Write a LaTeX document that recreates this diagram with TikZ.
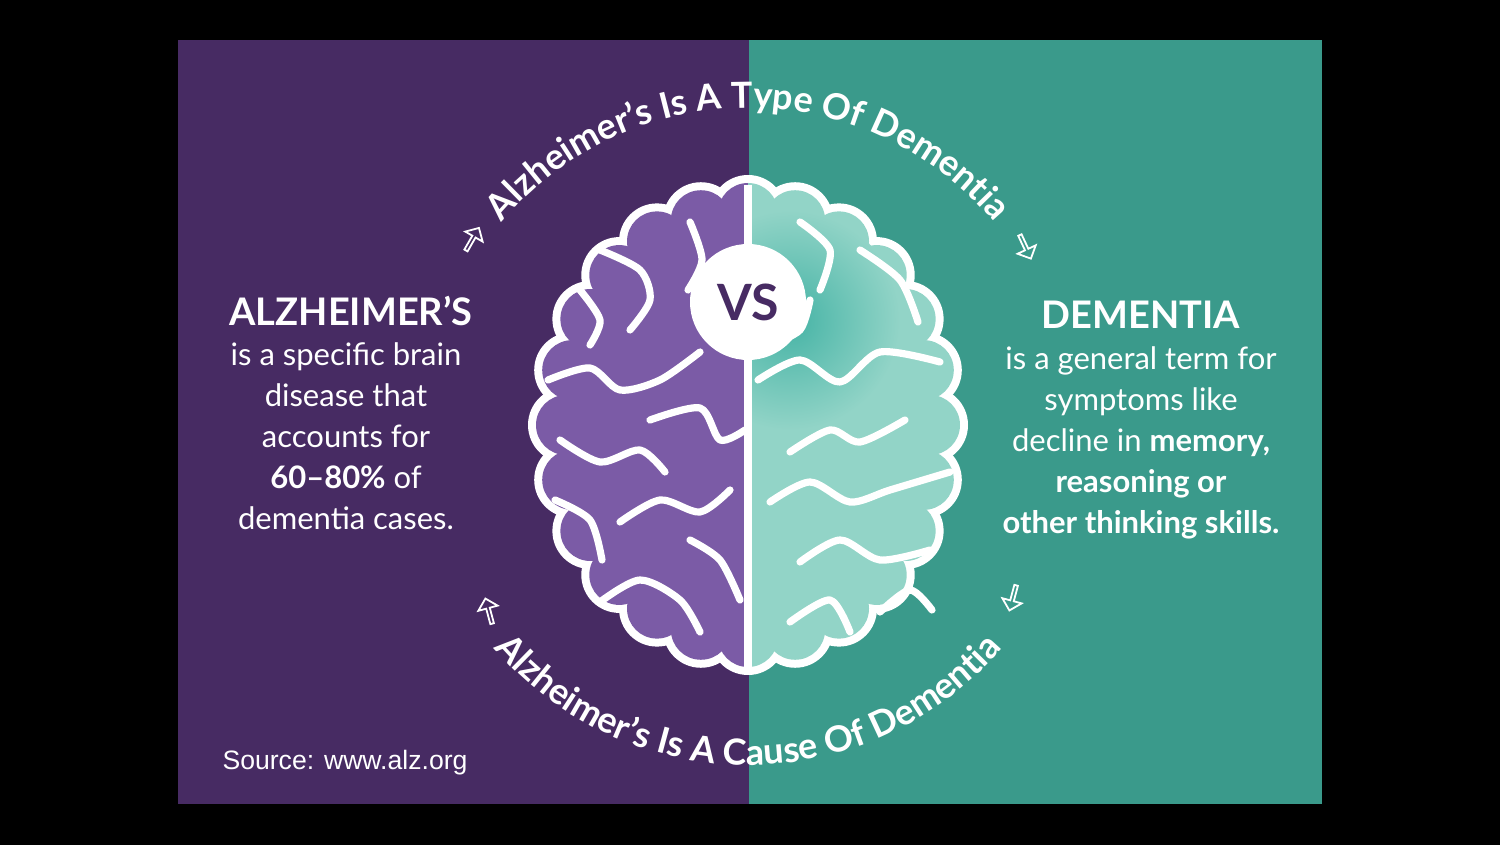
\documentclass[tikz,border=0pt]{standalone}
\usepackage{fontspec}
\setmainfont{Lato}
\newfontfamily\arialf{Liberation Sans}
\usetikzlibrary{decorations.text,shapes.arrows}
\definecolor{bgpurple}{HTML}{472B63}
\definecolor{bgteal}{HTML}{3A9A8B}
\definecolor{brpurple}{HTML}{7B5BA6}
\definecolor{brteal}{HTML}{92D4C7}
\definecolor{glow}{HTML}{45B3A5}
\tikzset{
  gyrus/.style={white,line width=3.6pt,line cap=round,line join=round},
  harrow/.style={single arrow,draw=white,line width=0.9pt,fill=none,minimum height=13pt,minimum width=10pt,single arrow head extend=2pt,inner sep=0pt},
  bodytxt/.style={text=white,font=\fontsize{15.5}{20.5}\selectfont,align=center},
  headtxt/.style={text=white,font=\bfseries\fontsize{19}{22}\selectfont}
}
\begin{document}
\begin{tikzpicture}[x=0.5pt,y=-0.5pt]
\fill[black] (0,0) rectangle (1500,845);
\fill[bgpurple] (178,40) rectangle (749,804);
\fill[bgteal] (749,40) rectangle (1322,804);
% brain
\def\cx{748}\def\cy{425}
\fill[white] (\cx,\cy) ellipse [x radius=190,y radius=220];
\foreach \a in {0,15,...,345}{
  \fill[white] ({\cx+182*cos(\a)},{\cy+212*sin(\a)}) circle (38);
}
\begin{scope}
\clip (\cx,0) rectangle (0,845);
\fill[brpurple] (\cx,\cy) ellipse [x radius=182,y radius=212];
\foreach \a in {0,15,...,345}{
  \fill[brpurple] ({\cx+182*cos(\a)},{\cy+212*sin(\a)}) circle (30);
}
\end{scope}
\begin{scope}
\clip (\cx,0) rectangle (1500,845);
\fill[brteal] (\cx,\cy) ellipse [x radius=182,y radius=212];
\foreach \a in {0,15,...,345}{
  \fill[brteal] ({\cx+182*cos(\a)},{\cy+212*sin(\a)}) circle (30);
}
\shade[inner color=glow,outer color=brteal] (790,320) circle (110);
\end{scope}
\draw[white,line width=4pt] (\cx,185) -- (\cx,668);
% gyri left
\draw[gyrus] plot[smooth] coordinates {(600,250)(640,270)(650,300)(630,330)};
\draw[gyrus] plot[smooth] coordinates {(690,222)(702,260)(688,290)};
\draw[gyrus] plot[smooth] coordinates {(548,380)(590,368)(620,390)(660,380)(700,352)};
\draw[gyrus] plot[smooth] coordinates {(650,420)(700,408)(720,440)(745,430)};
\draw[gyrus] plot[smooth] coordinates {(560,440)(600,462)(640,450)(665,472)};
\draw[gyrus] plot[smooth] coordinates {(620,522)(660,500)(700,512)(730,490)};
\draw[gyrus] plot[smooth] coordinates {(555,500)(590,520)(602,560)};
\draw[gyrus] plot[smooth] coordinates {(600,602)(640,580)(680,600)(700,632)};
\draw[gyrus] plot[smooth] coordinates {(690,540)(720,560)(740,600)};
\draw[gyrus] plot[smooth] coordinates {(580,290)(600,320)(590,345)};
% gyri right
\draw[gyrus] plot[smooth] coordinates {(800,222)(830,250)(820,290)};
\draw[gyrus] plot[smooth] coordinates {(860,250)(900,280)(918,322)};
\draw[gyrus] plot[smooth] coordinates {(758,380)(800,360)(840,382)(880,352)(940,362)};
\draw[gyrus] plot[smooth] coordinates {(790,452)(830,430)(860,442)(905,420)};
\draw[gyrus] plot[smooth] coordinates {(770,502)(810,482)(850,502)(890,490)(950,472)};
\draw[gyrus] plot[smooth] coordinates {(800,562)(840,540)(880,560)(930,550)};
\draw[gyrus] plot[smooth] coordinates {(790,622)(830,600)(850,632)};
\draw[gyrus] plot[smooth] coordinates {(880,612)(910,590)(932,610)};
\draw[gyrus] plot[smooth] coordinates {(770,345)(800,330)(810,300)};
% VS
\node[circle,fill=white,minimum size=58pt,inner sep=0pt] (vs) at (748,302) {};
\node[text=bgpurple,font=\bfseries\fontsize{25}{25}\selectfont] (vst) at (vs.center) {VS};
% side texts
\node[headtxt] (ah) at (351,311) {ALZHEIMER'S};
\node[bodytxt,anchor=north] (ab) at (346,336) {is a specific brain\\disease that\\accounts for\\\textbf{60--80\%} of\\dementia cases.};
\node[headtxt] (dh) at (1141,315) {DEMENTIA};
\node[bodytxt,anchor=north] (db) at (1141,340) {is a general term for\\symptoms like\\decline in \textbf{memory,}\\\textbf{reasoning or}\\\textbf{other thinking skills.}};
\node[text=white,font=\arialf\fontsize{13.3}{15}\selectfont] (src) at (345,763) {Source: www.alz.org};
% arrows
\node[harrow,rotate=60] (a1) at (472,240) {};
\node[harrow,rotate=-65] (a2) at (1025,246) {};
\node[harrow,rotate=105] (a3) at (489,612) {};
\node[harrow,rotate=-105] (a4) at (1013,597) {};
% arc texts
\begin{scope}[y=0.5pt,yshift=-422.5pt]
\path[decorate,decoration={text along path,text align=center,text color=white,
  text={|\bfseries\fontsize{18}{18}\selectfont|Alzheimer's Is A Type Of Dementia}}]
  (748,415) ++(145:322) arc (145:35:322);
\path[decorate,decoration={text along path,text align=center,text color=white,
  text={|\bfseries\fontsize{18}{18}\selectfont|Alzheimer's Is A Cause Of Dementia}}]
  (748,415) ++(215:335) arc (215:325:335);
\end{scope}
\end{tikzpicture}
\end{document}
